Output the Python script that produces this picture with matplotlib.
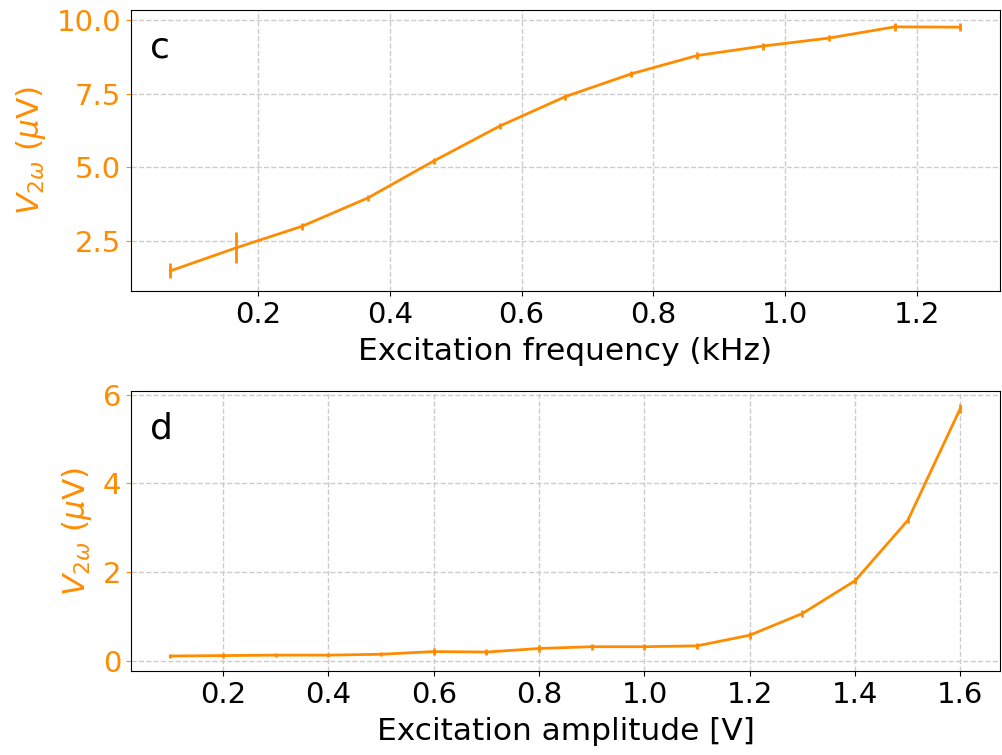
import matplotlib

matplotlib.use("Agg")
import matplotlib.pyplot as plt

ORANGE = "darkorange"

# panel c: frequency sweep
freq_khz = [0.0667, 0.1667, 0.2667, 0.3667, 0.4667, 0.5667, 0.6667,
            0.7667, 0.8667, 0.9667, 1.0667, 1.1667, 1.2667]
v2w_freq = [1.50, 2.28, 3.01, 3.97, 5.22, 6.40, 7.40,
            8.17, 8.79, 9.11, 9.38, 9.76, 9.75]
v2w_freq_err = [0.25, 0.53, 0.12, 0.11, 0.10, 0.10, 0.10,
                0.11, 0.12, 0.12, 0.11, 0.14, 0.14]

# panel d: amplitude sweep
amp_v = [0.1, 0.2, 0.3, 0.4, 0.5, 0.6, 0.7, 0.8,
         0.9, 1.0, 1.1, 1.2, 1.3, 1.4, 1.5, 1.6]
v2w_amp = [0.11, 0.12, 0.13, 0.13, 0.15, 0.21, 0.20, 0.28,
           0.32, 0.32, 0.34, 0.58, 1.07, 1.81, 3.17, 5.70]
v2w_amp_err = [0.05, 0.05, 0.05, 0.05, 0.05, 0.07, 0.07, 0.07,
               0.07, 0.07, 0.07, 0.08, 0.08, 0.08, 0.07, 0.10]

YLABEL = r"$V_{2\omega}$ ($\mu$V)"


def style_axis(ax, xlabel, letter):
    ax.grid(True, linestyle="--", color="#cccccc", linewidth=1.0)
    ax.set_axisbelow(True)
    ax.set_xlabel(xlabel, fontsize=22.5, labelpad=6)
    ax.set_ylabel(YLABEL, fontsize=22.5, color=ORANGE, labelpad=6)
    ax.tick_params(axis="x", labelsize=21)
    ax.tick_params(axis="y", labelsize=21, colors=ORANGE)
    ax.text(0.022, 0.83, letter, transform=ax.transAxes, fontsize=26)


fig = plt.figure(figsize=(10.03, 7.55), dpi=100)
ax_c = fig.add_axes([0.1306, 0.6146, 0.8664, 0.3722])
ax_d = fig.add_axes([0.1306, 0.1113, 0.8664, 0.3709])

ax_c.errorbar(freq_khz, v2w_freq, yerr=v2w_freq_err, color=ORANGE,
              linewidth=2, elinewidth=2, capsize=0)
style_axis(ax_c, "Excitation frequency (kHz)", "c")
ax_c.set_yticks([2.5, 5.0, 7.5, 10.0])

ax_d.errorbar(amp_v, v2w_amp, yerr=v2w_amp_err, color=ORANGE,
              linewidth=2, elinewidth=2, capsize=0)
style_axis(ax_d, "Excitation amplitude [V]", "d")
ax_d.set_yticks([0, 2, 4, 6])

fig.savefig("out.png", dpi=100)
